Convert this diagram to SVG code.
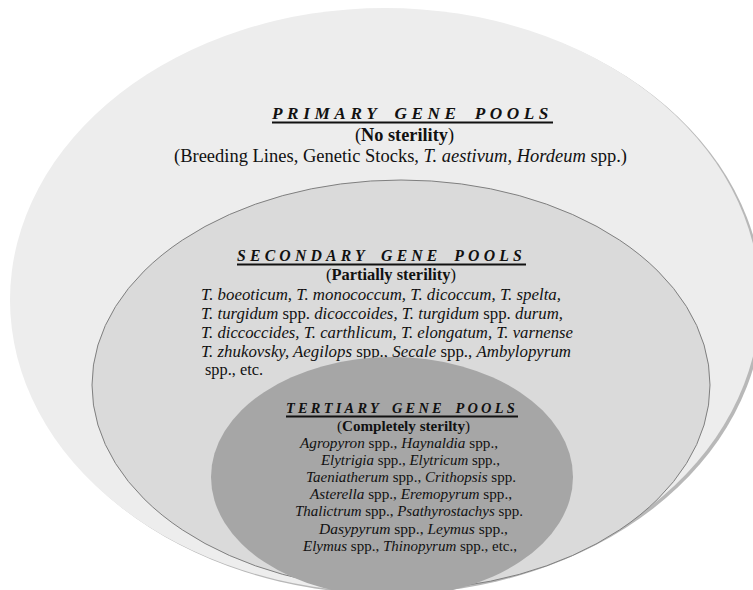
<svg xmlns="http://www.w3.org/2000/svg" width="753" height="590" viewBox="0 0 753 590">
<style>
text{fill:#111;}
.i{font-style:italic;}
.b{font-weight:bold;}
.ttl{font-weight:bold;font-style:italic;}
.ul{stroke:#111;stroke-width:1.8;}
.p{font-size:18px;}
.s{font-size:16.4px;}
.t{font-size:15px;}
</style>
<rect width="753" height="590" fill="#ffffff"/>
<g font-family="'Liberation Serif', 'DejaVu Serif', serif">
<g id="primary">
<ellipse cx="388" cy="302" rx="375" ry="292" fill="#b8b8b8"/>
<ellipse cx="385" cy="300" rx="375" ry="292" fill="#ededed"/>
<text x="272" y="119" class="ttl" font-size="17" letter-spacing="4.5" word-spacing="5" textLength="281" lengthAdjust="spacingAndGlyphs">PRIMARY GENE POOLS</text>
<line class="ul" x1="272" y1="122.5" x2="553" y2="122.5"/>
<text x="355" y="141" class="p" textLength="99" lengthAdjust="spacingAndGlyphs">(<tspan class="b">No sterility</tspan>)</text>
<text x="174" y="162" class="p" textLength="453" lengthAdjust="spacingAndGlyphs">(Breeding Lines, Genetic Stocks, <tspan class="i">T. aestivum</tspan>, <tspan class="i">Hordeum</tspan> spp.)</text>
</g>
<g id="secondary">
<ellipse cx="401" cy="385" rx="309" ry="205" fill="#dadada" stroke="#7f7f7f" stroke-width="1"/>
<text x="237" y="261" class="ttl" font-size="17" letter-spacing="4.5" word-spacing="5" textLength="289" lengthAdjust="spacingAndGlyphs">SECONDARY GENE POOLS</text>
<line class="ul" x1="237" y1="264.5" x2="526" y2="264.5"/>
<text x="326" y="280" class="s" textLength="130" lengthAdjust="spacingAndGlyphs">(<tspan class="b">Partially sterility</tspan>)</text>
<text x="201" y="300" class="s i" textLength="360" lengthAdjust="spacingAndGlyphs">T. boeoticum, T. monococcum, T. dicoccum, T. spelta,</text>
<text x="201" y="319" class="s" textLength="362" lengthAdjust="spacingAndGlyphs"><tspan class="i">T. turgidum</tspan> spp. <tspan class="i">dicoccoides, T. turgidum</tspan> spp. <tspan class="i">durum,</tspan></text>
<text x="201" y="338" class="s i" textLength="372" lengthAdjust="spacingAndGlyphs">T. diccoccides, T. carthlicum, T. elongatum, T. varnense</text>
<text x="201" y="357" class="s" textLength="370" lengthAdjust="spacingAndGlyphs"><tspan class="i">T. zhukovsky, Aegilops</tspan> spp., <tspan class="i">Secale</tspan> spp., <tspan class="i">Ambylopyrum</tspan></text>
<text x="205" y="375" class="s" textLength="58" lengthAdjust="spacingAndGlyphs">spp., etc.</text>
</g>
<g id="tertiary">
<ellipse cx="392" cy="477" rx="181" ry="120" fill="#a6a6a6"/>
<text x="286" y="413" class="ttl" font-size="15.5" letter-spacing="3.5" word-spacing="4" textLength="232" lengthAdjust="spacingAndGlyphs">TERTIARY GENE POOLS</text>
<line class="ul" x1="286" y1="416.5" x2="518" y2="416.5"/>
<text x="337" y="431" class="t" textLength="133" lengthAdjust="spacingAndGlyphs">(<tspan class="b">Completely sterilty</tspan>)</text>
<text x="300" y="448" class="t" textLength="198" lengthAdjust="spacingAndGlyphs"><tspan class="i">Agropyron</tspan> spp., <tspan class="i">Haynaldia</tspan> spp.,</text>
<text x="321" y="465" class="t" textLength="179" lengthAdjust="spacingAndGlyphs"><tspan class="i">Elytrigia</tspan> spp., <tspan class="i">Elytricum</tspan> spp.,</text>
<text x="306" y="482" class="t" textLength="210" lengthAdjust="spacingAndGlyphs"><tspan class="i">Taeniatherum</tspan> spp., <tspan class="i">Crithopsis</tspan> spp.</text>
<text x="310" y="499" class="t" textLength="202" lengthAdjust="spacingAndGlyphs"><tspan class="i">Asterella</tspan> spp., <tspan class="i">Eremopyrum</tspan> spp.,</text>
<text x="295" y="516" class="t" textLength="228" lengthAdjust="spacingAndGlyphs"><tspan class="i">Thalictrum</tspan> spp., <tspan class="i">Psathyrostachys</tspan> spp.</text>
<text x="319" y="534" class="t" textLength="189" lengthAdjust="spacingAndGlyphs"><tspan class="i">Dasypyrum</tspan> spp., <tspan class="i">Leymus</tspan> spp.,</text>
<text x="303" y="551" class="t" textLength="214" lengthAdjust="spacingAndGlyphs"><tspan class="i">Elymus</tspan> spp., <tspan class="i">Thinopyrum</tspan> spp., etc.,</text>
</g>
<g id="connectors"></g>
</g>
</svg>
